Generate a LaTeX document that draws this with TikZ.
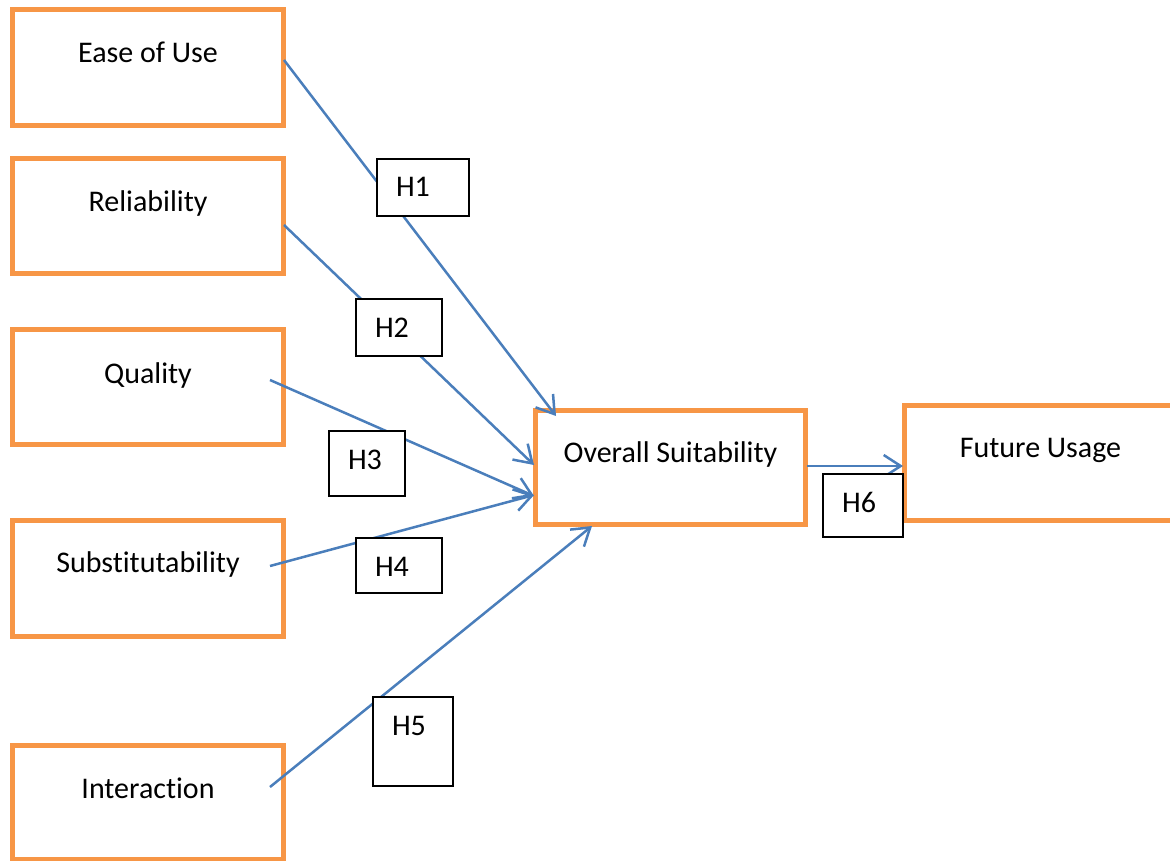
\documentclass[tikz,border=0pt]{standalone}
\usepackage{fontspec}
\setmainfont{Carlito}[Ligatures=NoCommon, RawFeature={-liga;-clig;-dlig;-calt}]
\usetikzlibrary{arrows.meta}
\definecolor{boxorange}{HTML}{F79646}
\definecolor{lineblue}{HTML}{4A7EBB}
\tikzset{
  obox/.style={draw=boxorange, line width=5pt, fill=white, rectangle, inner sep=0pt, outer sep=0pt,
    font=\fontsize{30}{32}\selectfont, text centered},
  hbox/.style={draw=black, line width=2pt, fill=white, rectangle, inner sep=0pt, outer sep=0pt},
  htext/.style={anchor=base, inner sep=0pt, font=\fontsize{30}{32}\selectfont},
  conn/.style={draw=lineblue, line width=2.5pt, -{Straight Barb[length=17pt,width=22pt,line width=2.5pt]}}
}
% box from (x1,y1) to (x2,y2), text baseline yb
\newcommand{\obx}[7]{% name, x1, y1, x2, y2, yb, text
  \pgfmathsetmacro{\cx}{(#2+#4)/2}
  \pgfmathsetmacro{\cy}{(#3+#5)/2}
  \pgfmathsetmacro{\ww}{#4-#2}
  \pgfmathsetmacro{\hh}{#5-#3}
  \pgfmathsetmacro{\th}{#6-#3}
  \pgfmathsetmacro{\td}{#5-#6}
  \node[obox, minimum width=\ww pt, minimum height=\hh pt, text height=\th pt, text depth=\td pt] (#1) at (\cx,\cy) {#7};
}
\newcommand{\hbx}[5]{% name, x1, y1, x2, y2
  \pgfmathsetmacro{\cx}{(#2+#4)/2}
  \pgfmathsetmacro{\cy}{(#3+#5)/2}
  \pgfmathsetmacro{\ww}{#4-#2}
  \pgfmathsetmacro{\hh}{#5-#3}
  \node[hbox, minimum width=\ww pt, minimum height=\hh pt] (#1) at (\cx,\cy) {};
}
\begin{document}
\begin{tikzpicture}[x=1pt, y=-1pt]
\useasboundingbox (0,0) rectangle (1170,861);
\clip (0,0) rectangle (1170,861);

% orange boxes
\obx{ease}{12.5}{9.5}{283.5}{125.5}{63}{Ease of Use}
\obx{rel}{12.5}{158.5}{283.5}{273.5}{212}{Reliability}
\obx{qual}{12.5}{329.5}{283.5}{444.5}{383}{Quality}
\obx{subs}{12.5}{520}{283.5}{636}{572}{Substit\kern0pt utability}
\obx{inter}{12.5}{745.5}{283.5}{859.5}{798}{Interact\kern0pt ion}
\obx{overall}{535.5}{410.5}{805.5}{524.5}{462}{Overall Suit\kern0pt ability}
\obx{future}{904.5}{405.5}{1176.5}{520.5}{457}{Future Usage}

% connector end points
\coordinate (s1) at (284,60);
\coordinate (e1) at (556,416);
\coordinate (s2) at (284,225);
\coordinate (e2) at (534,465);
\coordinate (s3) at (270,380);
\coordinate (e3) at (534,496);
\coordinate (s4) at (270,566);
\coordinate (e4) at (534,495);
\coordinate (s5) at (270,787);
\coordinate (e5) at (592,526);
\coordinate (s6) at (807,466);
\coordinate (e6) at (903,466);

\draw[conn] (s1) -- (e1);
\draw[conn] (s2) -- (e2);
\draw[conn] (s3) -- (e3);
\draw[conn] (s4) -- (e4);
\draw[conn] (s5) -- (e5);
\draw[conn] (s6) -- (e6);

% hypothesis boxes
\hbx{h1}{377}{159}{469}{216}
\hbx{h2}{356}{299}{442}{356}
\hbx{h3}{329}{431}{405}{496}
\hbx{h4}{356}{538}{442}{593}
\hbx{h5}{373}{697}{453}{786}
\hbx{h6}{823}{474}{903}{537}

\node[htext] (h1t) at (413,197) {H1};
\node[htext] (h2t) at (392,337) {H2};
\node[htext] (h3t) at (365,469) {H3};
\node[htext] (h4t) at (392,576) {H4};
\node[htext] (h5t) at (409,735) {H5};
\node[htext] (h6t) at (859,512) {H6};
\end{tikzpicture}
\end{document}
